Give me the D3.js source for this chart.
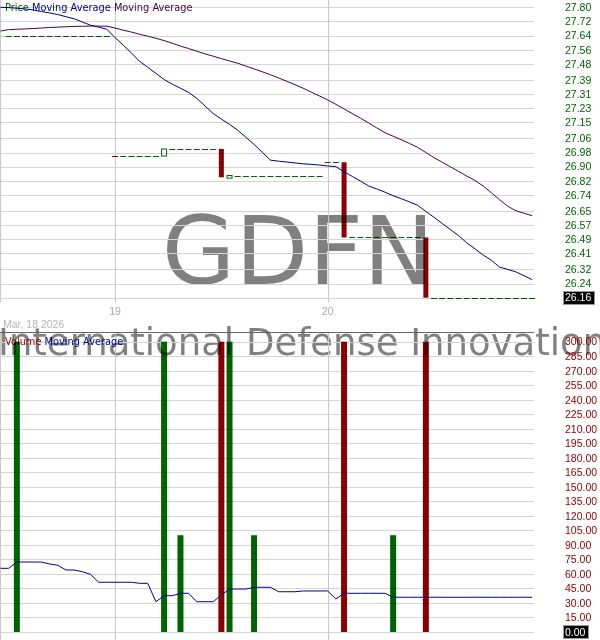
<!DOCTYPE html>
<html>
<head>
<meta charset="utf-8">
<script src="https://cdn.jsdelivr.net/npm/d3@7/dist/d3.min.js"></script>
<style>
  body { margin: 0; background: #fff; }
  svg { display: block; }
</style>
</head>
<body>
<div class="chart"></div>
<script>
// 15 minute bars, Mar 18 12:30 -> Mar 20 15:45
const openPrice = [null,
  27.64, 27.64, 27.64, 27.64, 27.64, 27.64, 27.64, 27.64, 27.64, 27.64, 27.64, 27.64, 27.64,
  26.96, 26.96, 26.96, 26.96, 26.96, 26.96, 26.96,
  27.00, 27.00, 27.00, 27.00, 27.00, 27.00, 27.00,
  26.835,
  26.85, 26.85, 26.85, 26.85, 26.85, 26.85, 26.85, 26.85, 26.85, 26.85, 26.85,
  26.925, 26.925, 26.925,
  26.50, 26.50, 26.50, 26.50, 26.50, 26.50, 26.50, 26.50, 26.50, 26.50,
  26.16, 26.16, 26.16, 26.16, 26.16, 26.16, 26.16, 26.16, 26.16, 26.16, 26.16, 26.16, 26.16];

const closePrice = [null,
  27.64, 27.64, 27.64, 27.64, 27.64, 27.64, 27.64, 27.64, 27.64, 27.64, 27.64, 27.64, 27.64,
  26.96, 26.96, 26.96, 26.96, 26.96, 26.96,
  27.00, 27.00, 27.00, 27.00, 27.00, 27.00, 27.00,
  26.84, 26.85,
  26.85, 26.85, 26.85, 26.85, 26.85, 26.85, 26.85, 26.85, 26.85, 26.85, 26.85,
  26.925, 26.925,
  26.50,
  26.50, 26.50, 26.50, 26.50, 26.50, 26.50, 26.50, 26.50, 26.50,
  26.16,
  26.16, 26.16, 26.16, 26.16, 26.16, 26.16, 26.16, 26.16, 26.16, 26.16, 26.16, 26.16, 26.16];

const volume = [0, 0, 300,
  0, 0, 0, 0, 0, 0, 0, 0, 0, 0, 0, 0, 0, 0, 0, 0, 0,
  300, 0, 100, 0, 0, 0, 0, 300, 300, 0, 0, 100,
  0, 0, 0, 0, 0, 0, 0, 0, 0, 0,
  300, 0, 0, 0, 0, 0, 100, 0, 0, 0, 300,
  0, 0, 0, 0, 0, 0, 0, 0, 0, 0, 0, 0, 0];

const priceMA1 = [
  27.800, 27.798, 27.795, 27.791, 27.785, 27.776, 27.768, 27.759, 27.747, 27.735,
  27.717, 27.699, 27.688, 27.676, 27.629, 27.587, 27.542, 27.495, 27.461, 27.427,
  27.392, 27.366, 27.343, 27.319, 27.286, 27.243, 27.200, 27.169, 27.139, 27.106,
  27.066, 27.026, 26.981, 26.937, 26.931, 26.926, 26.921, 26.916, 26.913, 26.909,
  26.904, 26.900, 26.872, 26.845, 26.819, 26.791, 26.774, 26.756, 26.736, 26.719,
  26.701, 26.682, 26.647, 26.614, 26.579, 26.545, 26.510, 26.470, 26.436, 26.401,
  26.372, 26.333, 26.320, 26.306, 26.284, 26.262];

const priceMA2 = [
  27.666, 27.674, 27.676, 27.678, 27.680, 27.683, 27.686, 27.688, 27.690, 27.692,
  27.693, 27.694, 27.694, 27.693, 27.683, 27.671, 27.660, 27.648, 27.637, 27.625,
  27.612, 27.597, 27.581, 27.567, 27.552, 27.537, 27.524, 27.510, 27.497, 27.484,
  27.468, 27.452, 27.436, 27.419, 27.401, 27.382, 27.363, 27.343, 27.321, 27.299,
  27.277, 27.252, 27.226, 27.200, 27.174, 27.147, 27.119, 27.092, 27.072, 27.052,
  27.031, 27.009, 26.980, 26.951, 26.925, 26.899, 26.873, 26.847, 26.822, 26.791,
  26.753, 26.714, 26.677, 26.651, 26.637, 26.623];

const volumeMA = [
  65.8, 65.8, 72.3, 72.3, 72.3, 72.3, 70.3, 69.0, 64.1, 64.1,
  62.3, 59.6, 51.4, 51.4, 51.4, 51.4, 51.4, 50.3, 50.3, 31.3,
  37.5, 37.5, 40.0, 40.0, 31.3, 31.3, 31.3, 38.2, 44.4, 44.4,
  44.4, 46.2, 46.2, 46.2, 41.6, 41.6, 41.6, 42.4, 42.4, 42.4,
  42.4, 34.1, 40.0, 40.0, 40.0, 40.0, 40.0, 40.0, 35.9, 35.9,
  35.9, 35.9, 35.9, 35.9, 35.9, 35.9, 35.9, 35.9, 35.9, 35.9,
  35.9, 35.9, 35.9, 35.9, 35.9, 35.9];

const dayTickIndex = [14, 40];
const dayTickLabels = ["19", "20"];

const priceTicks = [27.80, 27.72, 27.64, 27.56, 27.48, 27.39, 27.31, 27.23, 27.15, 27.06,
  26.98, 26.90, 26.82, 26.74, 26.65, 26.57, 26.49, 26.41, 26.32, 26.24, 26.16];
const volumeTicks = [300, 285, 270, 255, 240, 225, 210, 195, 180, 165, 150,
  135, 120, 105, 90, 75, 60, 45, 30, 15, 0];

const green = "#006400";
const red = "#8b0000";
const gridColor = "#d4d4d4";
const plotRight = 534;

let graphWidth = 600;
let graphHeight = 640;

let svg = d3.select(".chart")
  .append("svg")
  .attr("width", graphWidth)
  .attr("height", graphHeight);

let x = d3.scaleLinear()
  .domain([0, closePrice.length - 1])
  .range([0.5, 532.2]);

let yPrice = d3.scaleLinear()
  .domain([26.16, 27.80])
  .range([297.7, 7.3]);

let yVolume = d3.scaleLinear()
  .domain([0, 300])
  .range([632, 341.7]);

// watermark
svg.append("text")
  .attr("x", 298)
  .attr("y", 284)
  .attr("text-anchor", "middle")
  .attr("font-family", "DejaVu Sans")
  .attr("font-size", 95)
  .attr("fill", "#808080")
  .text("GDFN");

svg.append("text")
  .attr("x", -2)
  .attr("y", 355)
  .attr("font-family", "DejaVu Sans")
  .attr("font-size", 37)
  .attr("fill", "#808080")
  .text("International Defense Innovation ETF");

// grid
svg.selectAll(".priceGrid")
  .data(priceTicks)
  .enter()
  .append("line")
  .attr("x1", 0)
  .attr("x2", plotRight)
  .attr("y1", d => Math.round(yPrice(d)) + 0.5)
  .attr("y2", d => Math.round(yPrice(d)) + 0.5)
  .attr("stroke", gridColor);

svg.selectAll(".volumeGrid")
  .data(volumeTicks)
  .enter()
  .append("line")
  .attr("x1", 0)
  .attr("x2", plotRight)
  .attr("y1", d => Math.round(yVolume(d)) + 0.5)
  .attr("y2", d => Math.round(yVolume(d)) + 0.5)
  .attr("stroke", gridColor);

[[0, 302], [332, 640]].forEach(function (span) {
  svg.append("line")
    .attr("x1", 0.5).attr("x2", 0.5)
    .attr("y1", span[0]).attr("y2", span[1])
    .attr("stroke", "#c8c8c8");
  svg.selectAll(null)
    .data(dayTickIndex)
    .enter()
    .append("line")
    .attr("x1", d => Math.round(x(d)) + 0.5)
    .attr("x2", d => Math.round(x(d)) + 0.5)
    .attr("y1", span[0])
    .attr("y2", span[1])
    .attr("stroke", "#c8c8c8");
});

svg.append("line")
  .attr("x1", 0).attr("x2", plotRight)
  .attr("y1", 332.5).attr("y2", 332.5)
  .attr("stroke", "#666");

// legends
let legendFont = "DejaVu Sans, Verdana, sans-serif";

let priceLegend = svg.append("text")
  .attr("x", 5)
  .attr("y", 10.5)
  .attr("font-family", legendFont)
  .attr("font-size", 9.8);
priceLegend.append("tspan").attr("fill", green).text("Price");
priceLegend.append("tspan").attr("fill", "#00008b").text(" Moving Average");
priceLegend.append("tspan").attr("fill", "#4b0046").text(" Moving Average");

let volumeLegend = svg.append("text")
  .attr("x", 5)
  .attr("y", 344.5)
  .attr("font-family", legendFont)
  .attr("font-size", 9.8);
volumeLegend.append("tspan").attr("fill", red).text("Volume");
volumeLegend.append("tspan").attr("fill", "#00008b").text(" Moving Average");

// candles
function candleColor(i) {
  let prev = i > 0 ? closePrice[i - 1] : null;
  if (closePrice[i] < openPrice[i]) return red;
  if (closePrice[i] === openPrice[i] && prev !== null && closePrice[i] < prev) return red;
  return green;
}

let bars = closePrice.map((d, i) => i).filter(i => closePrice[i] !== null);

let marks = svg.append("g").style("mix-blend-mode", "multiply");

marks.selectAll(".flat")
  .data(bars.filter(i => openPrice[i] === closePrice[i]))
  .enter()
  .append("line")
  .attr("x1", i => x(i) - 3)
  .attr("x2", i => x(i) + 3)
  .attr("y1", i => Math.round(yPrice(closePrice[i])) + 0.5)
  .attr("y2", i => Math.round(yPrice(closePrice[i])) + 0.5)
  .attr("stroke", i => candleColor(i))
  .attr("stroke-width", 1);

marks.selectAll(".body")
  .data(bars.filter(i => openPrice[i] !== closePrice[i]))
  .enter()
  .append("rect")
  .attr("x", i => x(i) - 2.5)
  .attr("width", 5)
  .attr("y", i => yPrice(Math.max(openPrice[i], closePrice[i])))
  .attr("height", i => Math.max(1, Math.abs(yPrice(openPrice[i]) - yPrice(closePrice[i]))))
  .attr("fill", i => closePrice[i] > openPrice[i] ? "#fff" : red)
  .attr("stroke", i => closePrice[i] > openPrice[i] ? green : "none");

// moving averages
let maLine = d3.line()
  .x((d, i) => x(i))
  .y(d => yPrice(d));

svg.append("path")
  .attr("d", maLine(priceMA2))
  .attr("fill", "none")
  .attr("stroke", "#4b0046")
  .attr("stroke-width", 1);

svg.append("path")
  .attr("d", maLine(priceMA1))
  .attr("fill", "none")
  .attr("stroke", "#00008b")
  .attr("stroke-width", 1);

// volume
marks.selectAll(".vol")
  .data(bars.filter(i => volume[i] > 0))
  .enter()
  .append("rect")
  .attr("x", i => x(i) - 3)
  .attr("width", 6)
  .attr("y", i => yVolume(volume[i]))
  .attr("height", i => yVolume(0) - yVolume(volume[i]))
  .attr("fill", i => candleColor(i));

let volLine = d3.line()
  .x((d, i) => x(i))
  .y(d => yVolume(d));

svg.append("path")
  .attr("d", volLine(volumeMA))
  .attr("fill", "none")
  .attr("stroke", "#00008b")
  .attr("stroke-width", 1);

// axes labels
let axisFont = "Liberation Sans, Arial, sans-serif";

svg.selectAll(".priceLabel")
  .data(priceTicks)
  .enter()
  .append("text")
  .attr("x", 565)
  .attr("y", d => yPrice(d))
  .attr("dy", "0.36em")
  .attr("font-family", axisFont)
  .attr("font-size", 10.5)
  .attr("fill", green)
  .text(d => d.toFixed(2));

svg.selectAll(".volumeLabel")
  .data(volumeTicks)
  .enter()
  .append("text")
  .attr("x", 565)
  .attr("y", d => yVolume(d))
  .attr("dy", "0.36em")
  .attr("font-family", axisFont)
  .attr("font-size", 10.5)
  .attr("fill", red)
  .text(d => d.toFixed(2));

function lastValueBox(value, y, width) {
  svg.append("rect")
    .attr("x", 563.5)
    .attr("y", Math.round(y) - 6.5)
    .attr("width", width)
    .attr("height", 13)
    .attr("fill", "#000")
    .attr("stroke", "#999");
  svg.append("text")
    .attr("x", 565)
    .attr("y", y)
    .attr("dy", "0.36em")
    .attr("font-family", axisFont)
    .attr("font-size", 10.5)
    .attr("fill", "#fff")
    .text(value.toFixed(2));
}

let last = closePrice.length - 1;
lastValueBox(closePrice[last], yPrice(closePrice[last]), 31);
lastValueBox(volume[last], yVolume(volume[last]), 25);

svg.selectAll(".dayLabel")
  .data(dayTickIndex)
  .enter()
  .append("text")
  .attr("x", d => x(d))
  .attr("y", 315)
  .attr("text-anchor", "middle")
  .attr("font-family", axisFont)
  .attr("font-size", 10.5)
  .attr("fill", "#aaa")
  .text((d, i) => dayTickLabels[i]);

svg.append("text")
  .attr("x", 3)
  .attr("y", 328)
  .attr("font-family", axisFont)
  .attr("font-size", 10.5)
  .attr("fill", "#b4b4b4")
  .text("Mar, 18 2026");
</script>
</body>
</html>
